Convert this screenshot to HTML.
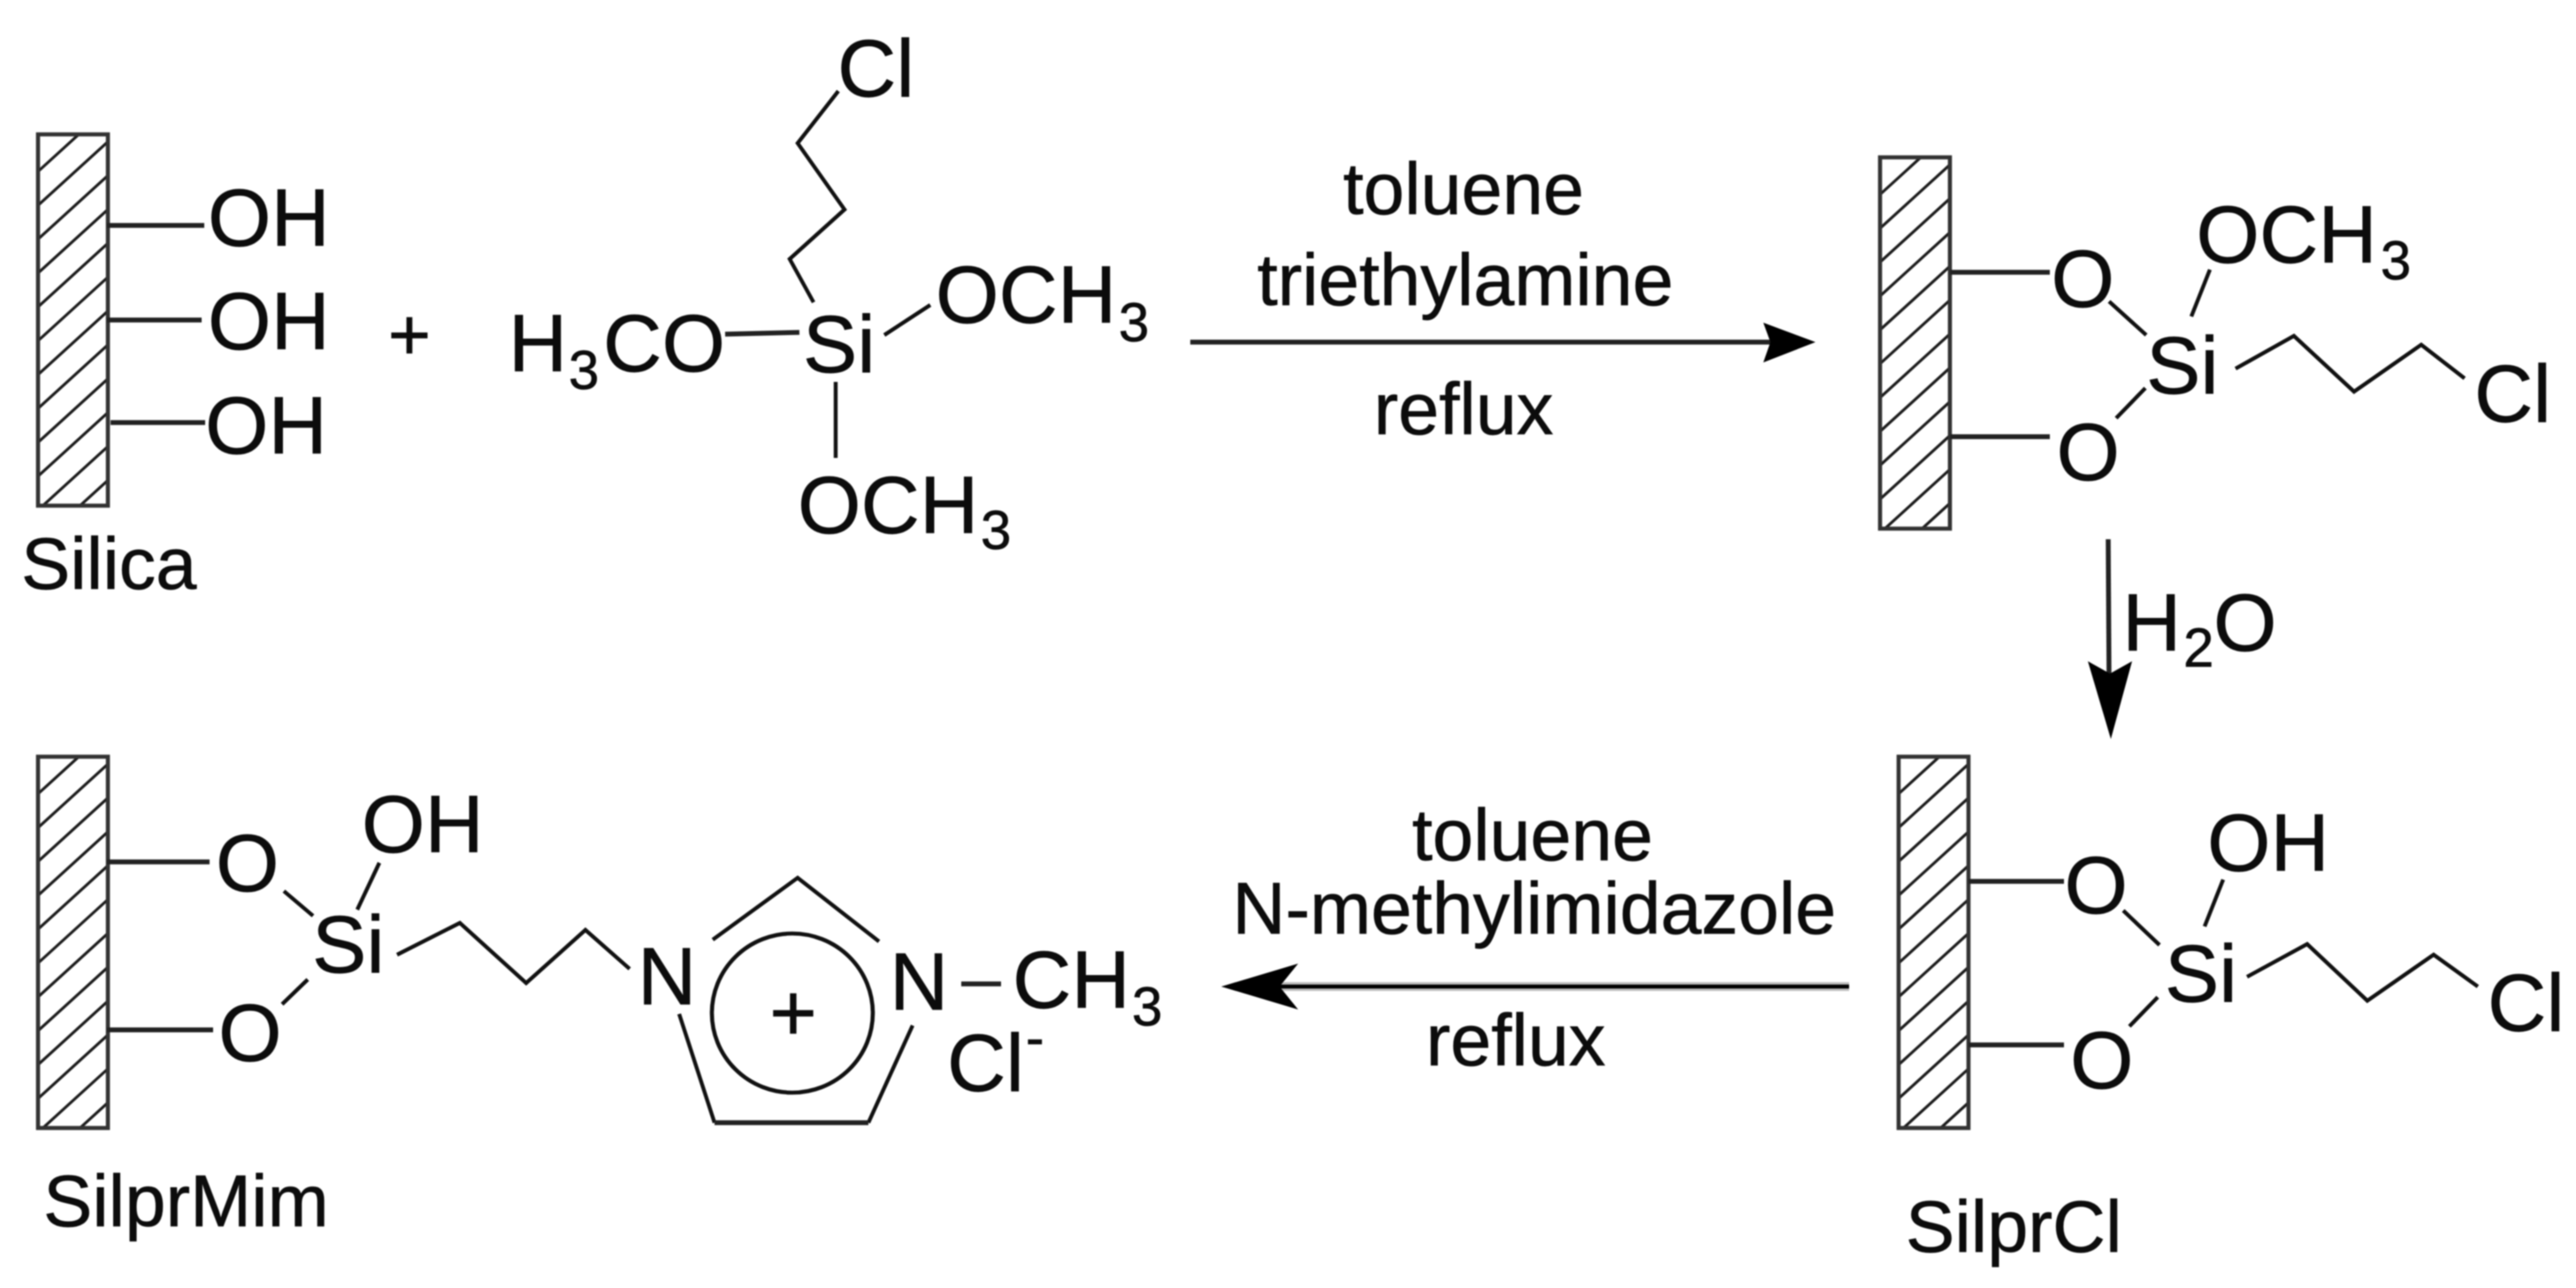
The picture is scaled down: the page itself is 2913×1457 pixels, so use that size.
<!DOCTYPE html>
<html><head><meta charset="utf-8"><style>
html,body{margin:0;padding:0;background:#fff;width:2913px;height:1457px;overflow:hidden}
svg{display:block;filter:blur(0.7px)}
text{font-family:"Liberation Sans",sans-serif;fill:#0c0c0c;stroke:#0c0c0c;stroke-width:0.7}
.a{font-size:92px}.b{font-size:83px}.s{font-size:62px}
.m{text-anchor:middle}
.l{fill:none;stroke:#111;stroke-width:4.4;stroke-linejoin:miter}
.t{fill:none;stroke:#222;stroke-width:5.5}
.h{stroke:#1c1c1c;stroke-width:3.2}
.r{fill:none;stroke:#333;stroke-width:4.6}
</style></head><body>
<svg width="2913" height="1457" viewBox="0 0 2913 1457" xmlns="http://www.w3.org/2000/svg">
<defs>
<clipPath id="c"><rect x="0" y="0" width="79" height="420"/></clipPath>
<g id="w">
<g clip-path="url(#c)" class="h">
<line x1="0" y1="42" x2="79" y2="-30"/><line x1="0" y1="80.3" x2="79" y2="8.3"/><line x1="0" y1="118.6" x2="79" y2="46.6"/><line x1="0" y1="156.9" x2="79" y2="84.9"/><line x1="0" y1="195.2" x2="79" y2="123.2"/><line x1="0" y1="233.5" x2="79" y2="161.5"/><line x1="0" y1="271.8" x2="79" y2="199.8"/><line x1="0" y1="310.1" x2="79" y2="238.1"/><line x1="0" y1="348.4" x2="79" y2="276.4"/><line x1="0" y1="386.7" x2="79" y2="314.7"/><line x1="0" y1="425" x2="79" y2="353"/><line x1="0" y1="463.3" x2="79" y2="391.3"/>
</g>
<rect class="r" x="0" y="0" width="79" height="420"/>
</g>
</defs>

<!-- Silica -->
<use href="#w" x="43" y="152"/>
<path class="t" d="M121 255H231M121 362H228M125 478H232"/>
<text class="a" x="235" y="278">OH</text>
<text class="a" x="235" y="395">OH</text>
<text class="a" x="232" y="513">OH</text>
<text class="b" x="24" y="666">Silica</text>
<text class="b m" x="463" y="407">+</text>

<!-- silane -->
<text class="a" x="947" y="109">Cl</text>
<path class="l" d="M948 103L902 162L955 237L893 293L920 342"/>
<text class="a" x="575" y="420">H</text><text class="s" x="643" y="440">3</text><text class="a" x="682" y="420">CO</text>
<path class="t" d="M820 378L904 376"/>
<text class="a" x="908" y="421">Si</text>
<path class="l" d="M1000 379L1052 345M945 432V518"/>
<text class="a" x="1058" y="365">OCH</text><text class="s" x="1265" y="386">3</text>
<text class="a" x="902" y="603">OCH</text><text class="s" x="1109" y="621">3</text>

<!-- arrow 1 -->
<line x1="1346" y1="387" x2="2002" y2="387" stroke="#222" stroke-width="5.5"/>
<polygon points="2053,387 1994,365 2002,387 1994,410" fill="#000"/>
<text class="b m" x="1655" y="242">toluene</text>
<text class="b m" x="1657" y="345">triethylamine</text>
<text class="b m" x="1655" y="491">reflux</text>

<!-- top right -->
<use href="#w" x="2126" y="178"/>
<path class="t" d="M2205 308H2318M2205 494H2318"/>
<text class="a" x="2319.5" y="347">O</text>
<text class="a" x="2325.5" y="543">O</text>
<text class="a" x="2483.5" y="297">OCH</text><text class="s" x="2692" y="316">3</text>
<text class="a" x="2427" y="445">Si</text>
<path class="l" d="M2385 341L2427 379M2499 305L2478 358M2426 439L2393 473M2528 417L2594 380L2662 443L2738 390L2787 428"/>
<text class="a" x="2798" y="477">Cl</text>

<!-- H2O arrow -->
<line x1="2384" y1="610" x2="2385" y2="775" stroke="#222" stroke-width="5.5"/>
<polygon points="2387,836 2361,748 2386,762 2411,748" fill="#000"/>
<text class="a" x="2400" y="736">H</text><text class="s" x="2469" y="754">2</text><text class="a" x="2503" y="736">O</text>

<!-- SilprCl -->
<use href="#w" x="2147" y="856"/>
<path class="t" d="M2226 997H2334M2226 1182H2334"/>
<text class="a" x="2334.5" y="1033">O</text>
<text class="a" x="2341" y="1231">O</text>
<text class="a" x="2496" y="985">OH</text>
<text class="a" x="2448" y="1133">Si</text>
<path class="l" d="M2514 995L2493 1048M2401 1030L2442 1069M2440 1128L2408 1161M2541 1105L2609 1068L2677 1132L2752 1080L2802 1116"/>
<text class="a" x="2813" y="1166">Cl</text>
<text class="b" x="2155" y="1416">SilprCl</text>

<!-- arrow 2 -->
<line x1="1447" y1="1116" x2="2091" y2="1116" stroke="#c0c0c0" stroke-width="10"/>
<line x1="1447" y1="1116" x2="2091" y2="1116" stroke="#000" stroke-width="4.5"/>
<polygon points="1381,1116 1468,1090 1447,1116 1468,1142" fill="#000"/>
<text class="b m" x="1733" y="973">toluene</text>
<text class="b m" x="1735" y="1056">N-methylimidazole</text>
<text class="b m" x="1714" y="1205">reflux</text>

<!-- SilprMim -->
<use href="#w" x="43" y="856"/>
<path class="t" d="M121 975H237M121 1165H241"/>
<text class="a" x="244" y="1008">O</text>
<text class="a" x="247" y="1200">O</text>
<text class="a" x="409" y="964">OH</text>
<text class="a" x="353" y="1100">Si</text>
<path class="l" d="M429 976L404 1029M321 1008L354 1036M348 1108L319 1136M449 1080L520 1044L595 1112L662 1052L712 1096"/>
<text class="a" x="721" y="1136">N</text>
<path class="l" d="M806 1063L902 993L994 1065M768 1147L808 1270M1032 1160L982 1270"/>
<path class="t" d="M808 1270H982"/>
<ellipse cx="896" cy="1146" rx="91" ry="90" fill="none" stroke="#111" stroke-width="4.6"/>
<text class="a m" x="897" y="1177">+</text>
<text class="a" x="1006" y="1142">N</text>
<path class="t" d="M1087 1113H1132"/>
<text class="a" x="1145" y="1140">CH</text><text class="s" x="1280" y="1160">3</text>
<text class="a" x="1071" y="1234">Cl</text><text class="s" x="1160" y="1195">-</text>
<text class="b" x="49" y="1387">SilprMim</text>
</svg>
</body></html>
